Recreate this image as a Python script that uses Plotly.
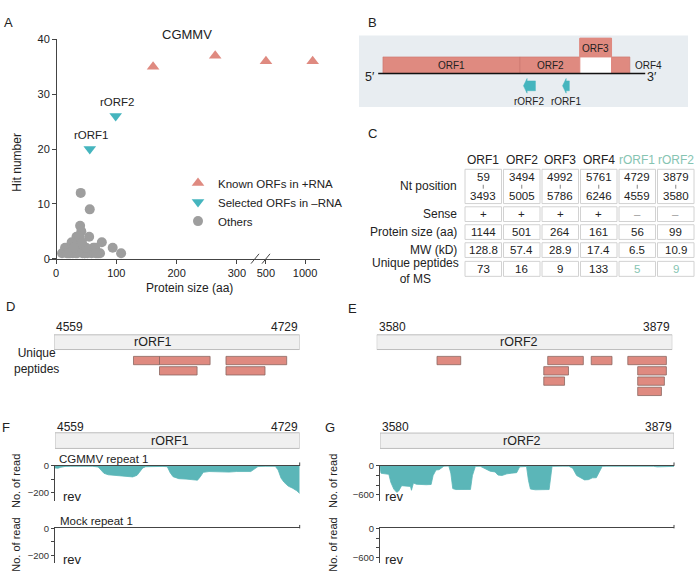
import numpy as np
import plotly.graph_objects as go

W, H = 700, 586
FONT = 'Liberation Sans, Arial, sans-serif'
SALMON = '#DF8A80'
SALMON_EDGE = '#C9756B'
TEAL = '#45B5BE'
COVER = '#5BB6B8'
GRAY = '#9E9E9E'
GREEN_TXT = '#86C4B2'
AX = '#444444'

# ---- panel A: hit number vs protein size
protein_aa = [1144, 501, 264, 161, 56, 99]      # ORF1..ORF4, rORF1, rORF2
known_hits = [36, 36, 37, 35]
selected_hits = [20, 26]
others_size = [41, 56, 40, 42, 55, 34, 31, 76, 94, 108, 23, 15, 10, 45, 62, 70, 59, 73, 20, 26,
               29, 33, 37, 44, 48, 52, 18, 24, 36, 39, 47, 65, 68, 28, 22, 50, 35, 30, 43, 66]
others_hits = [12, 9, 6, 5, 4, 4, 3, 3, 2, 1, 2, 2, 1, 2, 2, 1, 1, 1, 1, 3,
               2, 1, 3, 1, 1, 1, 1, 1, 2, 4, 1, 2, 1, 1, 1, 2, 1, 2, 3, 1]

# ---- panel B/C: genome table
orf_names = ['ORF1', 'ORF2', 'ORF3', 'ORF4', 'rORF1', 'rORF2']
nt_start = [59, 3494, 4992, 5761, 4729, 3879]
nt_end = [3493, 5005, 5786, 6246, 4559, 3580]
sense = ['+', '+', '+', '+', '–', '–']
mw_kd = [128.8, 57.4, 28.9, 17.4, 6.5, 10.9]
unique_peptides = [73, 16, 9, 133, 5, 9]
row_labels = ['Nt position', 'Sense', 'Protein size (aa)', 'MW (kD)', 'Unique peptides<br>of MS']

# ---- panel D/E: unique peptides mapped on rORFs
pep1_start = [4614, 4632, 4678, 4632, 4678]
pep1_end = [4632, 4667, 4720, 4658, 4705]
pep1_row = [0, 0, 0, 1, 1]
pep2_start = [3641, 3753, 3797, 3834, 3749, 3844, 3749, 3844, 3844]
pep2_end = [3665, 3789, 3818, 3873, 3774, 3873, 3770, 3871, 3868]
pep2_row = [0, 0, 0, 0, 1, 1, 2, 2, 3]

# ---- panel F/G: read coverage (reverse strand), CGMMV repeat 1
cov1_pos = [4559, 4561, 4563, 4566, 4570, 4575, 4580, 4585, 4589, 4591, 4593, 4596, 4600, 4605, 4609,
            4613, 4616, 4618, 4620, 4622, 4626, 4630, 4634, 4637, 4639, 4641, 4645, 4650, 4654, 4658,
            4660, 4662, 4666, 4670, 4675, 4680, 4685, 4690, 4695, 4698, 4700, 4705, 4710, 4712, 4714,
            4716, 4718, 4721, 4724, 4727, 4729]
cov1_val = [-15, -18, -10, -4, -3, -2, -2, -3, -8, -30, -55, -66, -70, -72, -78,
            -82, -70, -45, -15, -6, -4, -5, -4, -6, -50, -80, -95, -98, -104, -106,
            -80, -48, -42, -44, -48, -46, -42, -40, -42, -20, -5, -3, -2, -3, -30,
            -90, -120, -150, -165, -185, -205]
cov2_pos = [3580, 3581, 3583, 3586, 3589, 3591, 3594, 3597, 3599, 3602, 3605, 3608, 3611, 3612, 3614,
            3617, 3622, 3627, 3632, 3634, 3637, 3640, 3645, 3650, 3652, 3654, 3657, 3662, 3667, 3672,
            3674, 3677, 3682, 3687, 3692, 3697, 3700, 3704, 3709, 3714, 3719, 3722, 3726, 3729, 3731,
            3733, 3738, 3743, 3748, 3752, 3755, 3760, 3766, 3772, 3776, 3780, 3784, 3788, 3792, 3796,
            3800, 3803, 3806, 3810, 3820, 3830, 3840, 3850, 3858, 3862, 3870, 3876, 3879]
cov2_val = [-20, -150, -158, -162, -175, -340, -480, -548, -520, -410, -412, -420, -425, -505, -355,
            -380, -388, -390, -385, -200, -84, -80, -5, -3, -150, -470, -490, -492, -490, -488,
            -200, -10, -8, -60, -110, -125, -190, -200, -165, -150, -140, -20, -10, -12, -300,
            -480, -495, -498, -496, -490, -10, -4, -5, -6, -50, -200, -250, -290, -285, -248,
            -245, -120, -10, -6, -5, -6, -5, -7, -8, -20, -22, -20, -10]


def px(x):
    return x / W


def py(y):
    return 1 - y / H


def brk(v):
    # broken x axis: linear up to 300, log-compressed after the break
    if v <= 300:
        return v
    return 348 + (np.log10(v) - np.log10(500)) * 65 / np.log10(2)


shapes, annos = [], []


def txt(x, y, s, size=12, color='#222222', xanchor='center', angle=0, xref='paper'):
    annos.append(dict(x=px(x) if xref == 'paper' else x, y=py(y), xref=xref, yref='paper', text=s,
                      showarrow=False, textangle=angle, xanchor=xanchor, yanchor='middle',
                      font=dict(size=size, color=color, family=FONT)))


def rect(x0, x1, y0, y1, fill, line='rgba(0,0,0,0)', lw=0.0, xref='paper'):
    if xref == 'paper':
        x0, x1 = px(x0), px(x1)
    shapes.append(dict(type='rect', xref=xref, yref='paper', x0=x0, x1=x1, y0=py(y1), y1=py(y0),
                       fillcolor=fill, line=dict(color=line, width=lw)))


def seg(x0, y0, x1, y1, color=AX, lw=1.0, xref='paper'):
    if xref == 'paper':
        x0, x1 = px(x0), px(x1)
    shapes.append(dict(type='line', xref=xref, yref='paper', x0=x0, x1=x1, y0=py(y0), y1=py(y1),
                       line=dict(color=color, width=lw)))


fig = go.Figure()

# ================= A =================
fig.add_trace(go.Scatter(x=[brk(v) for v in protein_aa[:4]], y=known_hits, mode='markers',
                         name='Known ORFs in +RNA', cliponaxis=False,
                         marker=dict(symbol='triangle-up', size=11, color=SALMON)))
fig.add_trace(go.Scatter(x=[brk(v) for v in protein_aa[4:]], y=selected_hits, mode='markers',
                         name='Selected ORFs in \u2013RNA', cliponaxis=False,
                         marker=dict(symbol='triangle-down', size=11, color=TEAL)))
fig.add_trace(go.Scatter(x=[brk(v) for v in others_size], y=others_hits, mode='markers',
                         name='Others', cliponaxis=False, marker=dict(size=10, color=GRAY)))
for name, s, h in zip(orf_names[4:], protein_aa[4:], selected_hits):
    annos.append(dict(x=brk(s), y=h, xref='x', yref='y', text=name, showarrow=False, yshift=14, xshift=2,
                      font=dict(size=11.5, color='#222222', family=FONT)))
txt(187, 29, 'CGMMV', 13)
txt(17, 160, 'Hit number', 12, angle=-90)
txt(190, 288, 'Protein size (aa)', 12)
for xs in (255, 266):
    seg(xs - 4, 263, xs + 4, 253, AX, 1)

# ================= B =================
fig.add_trace(go.Scatter(x=[], y=[], xaxis='x2', yaxis='y2', showlegend=False))
rect(359, 688, 30, 103, '#E8EDF1')
for i in (0, 1, 3):
    rect(nt_start[i], nt_end[i], 52, 69, SALMON, SALMON_EDGE, 0.6, xref='x2')
rect(nt_start[2], nt_end[2], 33, 69, 'white', SALMON, 1, xref='x2')
rect(nt_start[2], nt_end[2], 33, 52, SALMON, SALMON, 1, xref='x2')
seg(-60, 69, 6630, 69, '#111111', 1.5, xref='x2')
txt(370, 72, '5\u2032', 12.5)
txt(652, 72, '3\u2032', 12.5)
for i in range(4):
    mid = (nt_start[i] + nt_end[i]) / 2
    if orf_names[i] == 'ORF3':
        txt(mid, 43, orf_names[i], 10, xref='x2')
    elif orf_names[i] == 'ORF4':
        txt(nt_end[i] + 80, 61, orf_names[i], 10, xanchor='left', xref='x2')
    else:
        txt(mid, 61, orf_names[i], 10, xref='x2')
for i in (4, 5):
    lo, hi = min(nt_start[i], nt_end[i]), max(nt_start[i], nt_end[i])
    head = 90
    path = (f'M {hi},{py(76.5)} L {lo + head},{py(76.5)} L {lo + head},{py(74)} L {lo},{py(81.5)} '
            f'L {lo + head},{py(89)} L {lo + head},{py(86.5)} L {hi},{py(86.5)} Z')
    shapes.append(dict(type='path', xref='x2', yref='paper', path=path, fillcolor=TEAL,
                       line=dict(color=TEAL, width=0.5)))
    txt((lo + hi) / 2, 98, orf_names[i], 10, xref='x2')

# ================= C =================
col_l, col_w = 464, 38.5
rows_y = [(166.7, 201.7), (205, 220), (223.3, 238.3), (241.7, 256.7), (260.7, 276)]
for j, name in enumerate(orf_names):
    cx = col_l + col_w * (j + 0.5)
    rc = GREEN_TXT if name.startswith('r') else '#222222'
    txt(cx, 157, name, 12, rc)
    for r, (t, b) in enumerate(rows_y):
        rect(col_l + col_w * j + 1, col_l + col_w * (j + 1) - 1, t, b, 'white', '#D2D2D2', 1)
    txt(cx, 175, str(nt_start[j]), 11.5)
    seg(cx, 182.5, cx, 186.5, '#666666', 0.8)
    txt(cx, 194, str(nt_end[j]), 11.5)
    txt(cx, 212.5, sense[j], 11.5, '#999999' if sense[j] == '–' else '#222222')
    txt(cx, 231, str(protein_aa[j]), 11.5)
    txt(cx, 249, f'{mw_kd[j]:.1f}', 11.5)
    txt(cx, 268.5, str(unique_peptides[j]), 11.5, rc)
for r, lab in enumerate(row_labels):
    t, b = rows_y[r]
    if '<br>' in lab:
        txt(415, 271, lab, 12)
    else:
        txt(459, (t + b) / 2, lab, 12, xanchor='right')


# ================= D / E =================
def orf_box(xa, lo, hi, name, name_x, y0=335.7, y1=350.7, lab_y=328):
    rect(lo, hi, y0, y1, '#F0F0F0', '#BDBDBD', 1, xref=xa)
    txt(lo, lab_y, str(lo), 12, xanchor='left', xref=xa)
    txt(hi, lab_y, str(hi), 12, xanchor='right', xref=xa)
    txt(name_x, (y0 + y1) / 2, name, 12.5)


fig.add_trace(go.Scatter(x=[], y=[], xaxis='x3', yaxis='y3', showlegend=False))
fig.add_trace(go.Scatter(x=[], y=[], xaxis='x4', yaxis='y4', showlegend=False))
orf_box('x3', nt_end[4], nt_start[4], orf_names[4], 153)
orf_box('x4', nt_end[5], nt_start[5], orf_names[5], 519)
for xa, st, en, rw in (('x3', pep1_start, pep1_end, pep1_row), ('x4', pep2_start, pep2_end, pep2_row)):
    for s, e, r in zip(st, en, rw):
        rect(s, e, 357.7 + 10.5 * r, 366.2 + 10.5 * r, SALMON, '#8A6660', 0.8, xref=xa)
txt(36, 362, 'Unique<br>peptides', 12)

# ================= F / G =================
fig.add_trace(go.Scatter(x=cov1_pos, y=cov1_val, xaxis='x5', yaxis='y5', mode='lines', fill='tozeroy',
                         line=dict(color=COVER, width=0.8), fillcolor=COVER, showlegend=False))
fig.add_trace(go.Scatter(x=[], y=[], xaxis='x6', yaxis='y6', showlegend=False))
fig.add_trace(go.Scatter(x=cov2_pos, y=cov2_val, xaxis='x7', yaxis='y7', mode='lines', fill='tozeroy',
                         line=dict(color=COVER, width=0.8), fillcolor=COVER, showlegend=False))
fig.add_trace(go.Scatter(x=[], y=[], xaxis='x8', yaxis='y8', showlegend=False))
orf_box('x5', nt_end[4], nt_start[4], orf_names[4], 170, 435.7, 451.7, 429.5)
orf_box('x7', nt_end[5], nt_start[5], orf_names[5], 522, 436, 451.7, 429.5)
txt(57, 462, 'CGMMV repeat 1', 11.5, xanchor='left')
txt(58, 526, 'Mock repeat 1', 11.5, xanchor='left')
for x0, xr in ((61, 299.7), (383, 674)):
    for top in (469.5, 533.3):
        txt(x0, top + 31.5, 'rev', 13, xanchor='left')
        seg(xr, top, xr, top - 3.5, AX, 1)
for xc in (16, 333):
    txt(xc, 485, 'No. of read', 11, angle=-90)
    txt(xc, 550, 'No. of read', 11, angle=-90)

hidden = dict(visible=False)
track_x = dict(side='top', showline=True, linecolor=AX, linewidth=1, ticks='', showticklabels=False,
               showgrid=False, zeroline=False)
track_y = dict(showline=True, linecolor=AX, linewidth=1, ticks='outside', ticklen=3, tickcolor=AX,
               tickfont=dict(size=9.5, color='#333333'), showgrid=False, zeroline=False)
y_f = dict(range=[-258, 0], tickvals=[0, -100, -200], ticktext=['0', '', '\u2212200'], **track_y)
y_g = dict(range=[-720, 0], tickvals=[0, -200, -400, -600], ticktext=['0', '', '', '\u2212600'], **track_y)

fig.update_layout(
    width=W, height=H, margin=dict(l=0, r=0, t=0, b=0),
    paper_bgcolor='white', plot_bgcolor='rgba(0,0,0,0)',
    font=dict(family=FONT, size=12, color='#222222'),
    hovermode=False,
    showlegend=True,
    legend=dict(x=px(178), y=py(166), xanchor='left', yanchor='top', bgcolor='rgba(0,0,0,0)',
                font=dict(size=11.5), tracegroupgap=0, itemwidth=30),
    xaxis=dict(domain=[px(49), px(320)], range=[-11.6, 437.8], anchor='y', showline=True, linecolor=AX,
               linewidth=1, ticks='outside', ticklen=4, tickcolor=AX, showgrid=False, zeroline=False,
               tickvals=[0, 100, 200, 300, brk(500), brk(1000)],
               ticktext=['0', '100', '200', '300', '500', '1000'], tickfont=dict(size=11)),
    yaxis=dict(domain=[py(258), py(34)], range=[0, 40], anchor='free', position=px(56), showline=True,
               linecolor=AX, linewidth=1, ticks='outside', ticklen=4, tickcolor=AX, showgrid=False,
               zeroline=False, tickvals=[0, 10, 20, 30, 40], tickfont=dict(size=11)),
    xaxis2=dict(domain=[px(376.6), px(648)], range=[-100, 6700], anchor='y2', **hidden),
    yaxis2=dict(domain=[py(103), py(30)], range=[0, 1], anchor='x2', **hidden),
    xaxis3=dict(domain=[px(54), px(299.7)], range=[4559, 4729], anchor='y3', **hidden),
    yaxis3=dict(domain=[py(400), py(320)], range=[0, 1], anchor='x3', **hidden),
    xaxis4=dict(domain=[px(376.7), px(672.3)], range=[3580, 3879], anchor='y4', **hidden),
    yaxis4=dict(domain=[py(400), py(320)], range=[0, 1], anchor='x4', **hidden),
    xaxis5=dict(domain=[px(55), px(299.7)], range=[4559, 4729], anchor='y5', **track_x),
    yaxis5=dict(domain=[py(505), py(469.5)], anchor='x5', **y_f),
    xaxis6=dict(domain=[px(55), px(299.7)], range=[4559, 4729], anchor='y6', **track_x),
    yaxis6=dict(domain=[py(569), py(533.3)], anchor='x6', **y_f),
    xaxis7=dict(domain=[px(380), px(674)], range=[3580, 3879], anchor='y7', **track_x),
    yaxis7=dict(domain=[py(505), py(469.5)], anchor='x7', **y_g),
    xaxis8=dict(domain=[px(380), px(674)], range=[3580, 3879], anchor='y8', **track_x),
    yaxis8=dict(domain=[py(569), py(533.3)], anchor='x8', **y_g),
    shapes=shapes,
)

for lab, (x, y) in zip('ABCDEFG', [(8, 17), (372, 17), (372, 130), (10, 307), (352, 309), (6, 430), (330, 430)]):
    txt(x, y, lab, 13)
fig.update_layout(annotations=annos)

# page body has a default 8px margin; drop it so the 700x586 figure fills the window
fig.write_html('out.html', config={'displayModeBar': False},
               post_script="document.body.style.margin='0';")
